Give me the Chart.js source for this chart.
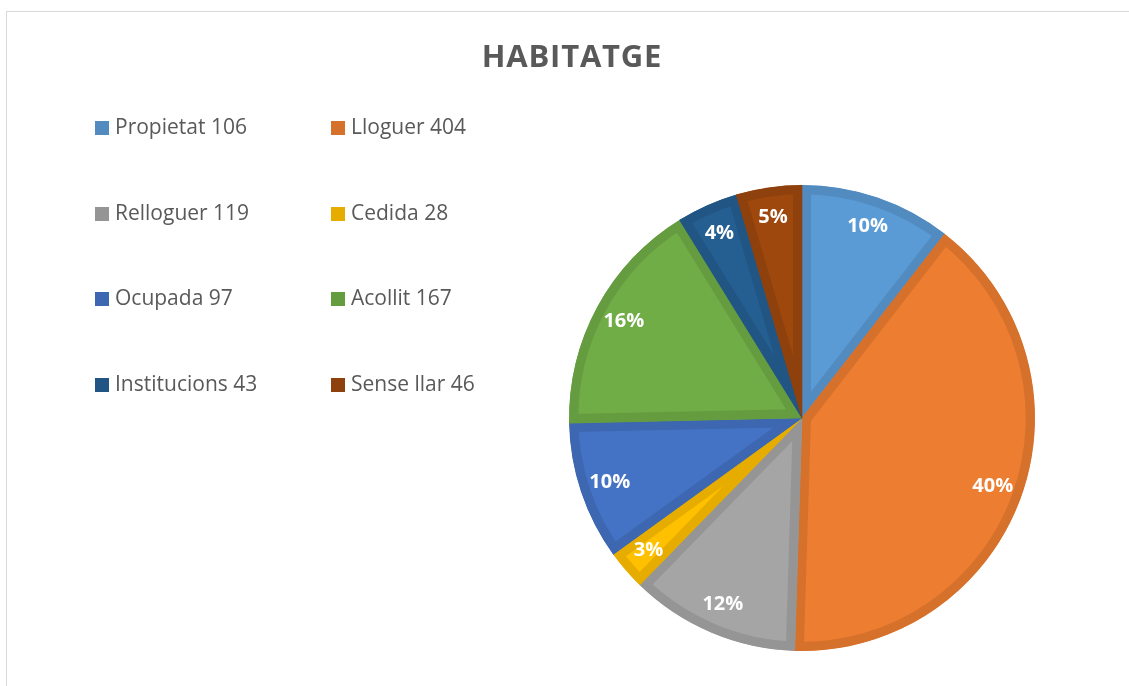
<!DOCTYPE html>
<html>
<head>
<meta charset="utf-8">
<script src="https://cdn.jsdelivr.net/npm/chart.js@4.4.1/dist/chart.umd.min.js"></script>
<style>
  html, body { margin: 0; padding: 0; background: #fff; overflow: hidden; }
  body { width: 1129px; height: 686px; position: relative; font-family: "Open Sans", "Noto Sans", sans-serif; }
  #frame { position: absolute; left: 6px; top: 11px; width: 1200px; height: 800px; border: 1.5px solid #d9d9d9; box-sizing: border-box; }
  #chart { position: absolute; left: 0; top: 0; }
  #title { position: absolute; left: 0; width: 1144px; top: 34px; text-align: center; font-weight: bold; font-size: 31px; color: #595959; letter-spacing: 0.8px; }
  .item { position: absolute; font-size: 21px; color: #595959; white-space: nowrap; line-height: 1; }
  .item span.box { display: inline-block; width: 14px; height: 14px; margin-right: 6px; vertical-align: -1px; }
</style>
</head>
<body>
<div id="frame"></div>
<canvas id="chart" width="1129" height="686"></canvas>
<div id="title">HABITATGE</div>
<div id="legend"></div>
<script>
// Chart data
const categories = ["Propietat", "Lloguer", "Relloguer", "Cedida", "Ocupada", "Acollit", "Institucions", "Sense llar"];
const values = [106, 404, 119, 28, 97, 167, 43, 46];
const percentLabels = ["10%", "40%", "12%", "3%", "10%", "16%", "4%", "5%"];

// Colours (fill and darker edge)
const fillColors = ["#5b9bd5", "#ed7d31", "#a5a5a5", "#ffc000", "#4472c4", "#70ad47", "#255e91", "#9e480e"];
const edgeColors = ["#518bc0", "#d6712c", "#959595", "#e6ad00", "#3d67b0", "#659c40", "#215583", "#8e410d"];

// Legend (two columns, row by row)
const legendEl = document.getElementById('legend');
categories.forEach((name, i) => {
  const col = i % 2;
  const row = Math.floor(i / 2);
  const div = document.createElement('div');
  div.className = 'item';
  div.style.left = (col === 0 ? 95 : 331) + 'px';
  div.style.top = (116 + row * 85.7) + 'px';
  div.innerHTML = `<span class="box" style="background:${edgeColors[i]}"></span>${name} ${values[i]}`;
  legendEl.appendChild(div);
});

// Percent labels inside the slices
const percentPlugin = {
  id: 'percentLabels',
  afterDatasetsDraw(chart) {
    const ctx = chart.ctx;
    const meta = chart.getDatasetMeta(0);
    ctx.save();
    ctx.fillStyle = '#ffffff';
    ctx.font = 'bold 20px "Open Sans", "Noto Sans", sans-serif';
    ctx.textAlign = 'center';
    ctx.textBaseline = 'middle';
    meta.data.forEach((arc, i) => {
      const p = arc.getProps(['x', 'y', 'startAngle', 'endAngle', 'outerRadius'], true);
      const mid = (p.startAngle + p.endAngle) / 2;
      const r = p.outerRadius * 0.87;
      ctx.fillText(percentLabels[i], p.x + Math.cos(mid) * r, p.y + Math.sin(mid) * r);
    });
    ctx.restore();
  }
};

new Chart(document.getElementById('chart'), {
  type: 'pie',
  data: {
    labels: categories,
    datasets: [{
      data: values,
      backgroundColor: fillColors,
      borderColor: edgeColors,
      borderWidth: 9,
      borderAlign: 'inner',
    }],
  },
  options: {
    responsive: false,
    animation: false,
    layout: { padding: { left: 569, right: 94, top: 185, bottom: 35 } },
    plugins: {
      legend: { display: false },
      title: { display: false },
      tooltip: { enabled: false },
    },
  },
  plugins: [percentPlugin],
});
</script>
</body>
</html>
